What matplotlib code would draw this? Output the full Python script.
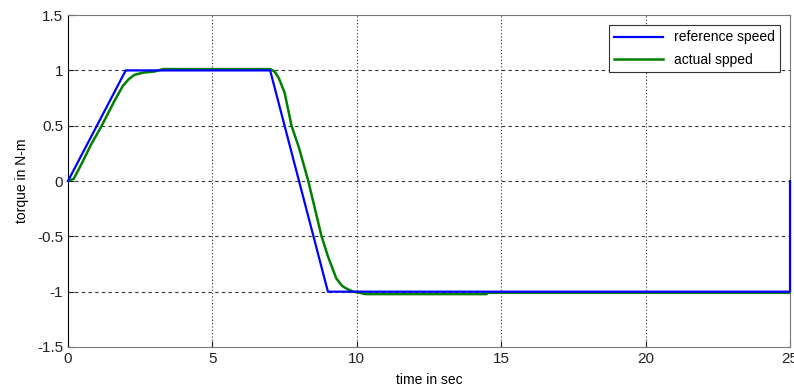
import matplotlib
matplotlib.use('Agg')
import matplotlib.pyplot as plt

plt.rcParams['font.family'] = ['Liberation Sans', 'DejaVu Sans']

# reference speed (piecewise)
t_ref = [0, 2, 7, 9, 25, 25]
ref_speed = [0, 1, 1, -1, -1, 0]

# actual speed (lags the reference a little)
t_act = [0, 0.2, 0.5, 0.8, 1.17, 1.6, 1.9, 2.1, 2.3, 2.6, 3.0, 3.3, 7.0,
         7.15, 7.3, 7.5, 7.74, 8.0, 8.32, 8.55, 8.78, 9.0, 9.29, 9.5, 9.7,
         9.87, 10.1, 10.3, 14.5, 14.5, 25]
act_speed = [0, 0.02, 0.17, 0.33, 0.5, 0.72, 0.86, 0.92, 0.96, 0.98, 0.99, 1.012, 1.012,
             0.99, 0.93, 0.8, 0.5, 0.3, 0.0, -0.25, -0.5, -0.68, -0.88, -0.95, -0.98,
             -1.0, -1.01, -1.022, -1.022, -1.01, -1.01]

xticks = [0, 5, 10, 15, 20, 25]
yticks = [-1.5, -1, -0.5, 0, 0.5, 1, 1.5]
ytick_labels = ['-1.5', '-1', '-0.5', '0', '0.5', '1', '1.5']

fig = plt.figure(figsize=(7.94, 3.87), dpi=100)
ax = fig.add_axes([0.0856, 0.1034, 0.9094, 0.8576])

ax.plot(t_act, act_speed, color='#008000', linewidth=1.8, label='actual spped', zorder=3)
ax.plot(t_ref, ref_speed, color='#0000ff', linewidth=1.6, label='reference speed',
        zorder=4, clip_on=False)

ax.set_xlim(0, 25)
ax.set_ylim(-1.5, 1.5)
ax.set_xticks(xticks)
ax.set_xticklabels([str(v) for v in xticks])
ax.set_yticks(yticks)
ax.set_yticklabels(ytick_labels)
ax.tick_params(direction='in', labelsize=11, colors='#222222', length=4)

# matlab-ish grid: dashed horizontals, dotted verticals
for y in yticks[1:-1]:
    ax.axhline(y, color='#333333', linewidth=0.8, dashes=(3, 3), zorder=0)
for x in xticks[1:-1]:
    ax.axvline(x, color='#333333', linewidth=0.8, dashes=(1, 2), zorder=0)

for side in ['top', 'right', 'bottom']:
    ax.spines[side].set_color('#777777')
ax.spines['left'].set_color('#000000')

ax.set_xlabel('time in sec', fontsize=10, labelpad=5)
ax.set_ylabel('torque in N-m', fontsize=10, labelpad=6)

handles, labels = ax.get_legend_handles_labels()
leg = ax.legend(handles[::-1], labels[::-1], loc='upper right', fontsize=10,
                fancybox=False, framealpha=1, edgecolor='#333333',
                borderaxespad=0.7, handlelength=3.5, labelspacing=0.6)
leg.get_frame().set_linewidth(0.8)

plt.savefig('out.png', dpi=100)
plt.close()
